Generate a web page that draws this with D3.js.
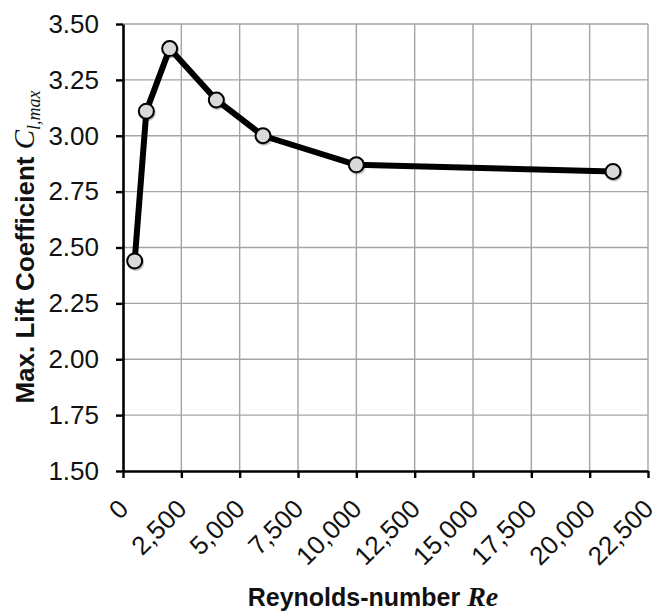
<!DOCTYPE html>
<html>
<head>
<meta charset="utf-8">
<script src="https://cdn.jsdelivr.net/npm/d3@7"></script>
<style>
  body { margin: 0; background: #fff; }
  svg { display: block; font-family: "Liberation Sans", Arial, sans-serif; }
</style>
</head>
<body>
<svg id="chart" width="652" height="611"></svg>
<script>
// data
var reynolds = [500, 1000, 2000, 4000, 6000, 10000, 21000];
var clMax = [2.44, 3.11, 3.39, 3.16, 3.00, 2.87, 2.84];
var xTicks = [0, 2500, 5000, 7500, 10000, 12500, 15000, 17500, 20000, 22500];
var yTicks = [1.50, 1.75, 2.00, 2.25, 2.50, 2.75, 3.00, 3.25, 3.50];

var plotL = 123, plotR = 648, plotT = 24, plotB = 471;

var svg = d3.select("#chart");

var x = d3.scaleLinear().domain([0, 22500]).range([plotL, plotR]);
var y = d3.scaleLinear().domain([1.5, 3.5]).range([plotB, plotT]);

// grid
svg.append("g").selectAll("line")
  .data(xTicks.slice(1))
  .enter().append("line")
  .attr("x1", function(d) { return x(d); })
  .attr("x2", function(d) { return x(d); })
  .attr("y1", plotT).attr("y2", plotB)
  .attr("stroke", "#a4a4a4").attr("stroke-width", 1.4);

svg.append("g").selectAll("line")
  .data(yTicks.slice(1))
  .enter().append("line")
  .attr("x1", plotL).attr("x2", plotR)
  .attr("y1", function(d) { return y(d); })
  .attr("y2", function(d) { return y(d); })
  .attr("stroke", "#a4a4a4").attr("stroke-width", 1.4);

// axes
var yAxis = d3.axisLeft(y).tickValues(yTicks).tickSize(7).tickSizeOuter(0)
  .tickFormat(d3.format(".2f"));
var gy = svg.append("g").attr("transform", "translate(" + plotL + ",0)").call(yAxis);
gy.select(".domain").attr("stroke", "#000").attr("stroke-width", 2.6);
gy.selectAll(".tick line").attr("stroke", "#000").attr("stroke-width", 2.4);
gy.selectAll(".tick text")
  .attr("x", -24)
  .attr("font-size", 26)
  .attr("font-family", "Liberation Sans, Arial, sans-serif")
  .attr("fill", "#111");

var xAxis = d3.axisBottom(x).tickValues(xTicks).tickSize(7).tickSizeOuter(0)
  .tickFormat(d3.format(","));
var gx = svg.append("g").attr("transform", "translate(0," + plotB + ")").call(xAxis);
gx.select(".domain").attr("stroke", "#000").attr("stroke-width", 2.6);
gx.selectAll(".tick line").attr("stroke", "#000").attr("stroke-width", 2.4);
gx.selectAll(".tick text")
  .attr("font-size", 26)
  .attr("font-family", "Liberation Sans, Arial, sans-serif")
  .attr("fill", "#111")
  .attr("text-anchor", "end")
  .attr("y", 0).attr("dy", "0.35em")
  .attr("transform", "translate(0,33) rotate(-45)");

// line
var line = d3.line()
  .x(function(d, i) { return x(reynolds[i]); })
  .y(function(d) { return y(d); });

svg.append("path")
  .datum(clMax)
  .attr("d", line)
  .attr("fill", "none")
  .attr("stroke", "#000")
  .attr("stroke-width", 6)
  .attr("stroke-linejoin", "round");

// markers, with a faint shadow like the original
svg.append("g").selectAll("circle")
  .data(clMax)
  .enter().append("circle")
  .attr("cx", function(d, i) { return x(reynolds[i]) + 1; })
  .attr("cy", function(d) { return y(d) + 1.5; })
  .attr("r", 8.5)
  .attr("fill", "rgba(0,0,0,0.25)");

svg.append("g").selectAll("circle")
  .data(clMax)
  .enter().append("circle")
  .attr("cx", function(d, i) { return x(reynolds[i]); })
  .attr("cy", function(d) { return y(d); })
  .attr("r", 7.5)
  .attr("fill", "#d9d9d9")
  .attr("stroke", "#000")
  .attr("stroke-width", 2);

// axis titles
var yt = svg.append("text")
  .attr("transform", "translate(34,247) rotate(-90)")
  .attr("text-anchor", "middle")
  .attr("font-size", 26)
  .attr("font-weight", "bold")
  .attr("fill", "#111");
yt.append("tspan").text("Max. Lift Coefficient ");
yt.append("tspan").text("C")
  .attr("font-family", "Liberation Serif, Times New Roman, serif")
  .attr("font-style", "italic").attr("font-weight", "normal").attr("font-size", 29);
yt.append("tspan").text("l,max")
  .attr("font-family", "Liberation Serif, Times New Roman, serif")
  .attr("font-style", "italic").attr("font-weight", "normal").attr("font-size", 18)
  .attr("dy", 6);

var xt = svg.append("text")
  .attr("x", 373)
  .attr("y", 606)
  .attr("text-anchor", "middle")
  .attr("font-size", 25)
  .attr("font-weight", "bold")
  .attr("fill", "#111");
xt.append("tspan").text("Reynolds-number ");
xt.append("tspan").text("Re")
  .attr("font-family", "Liberation Serif, Times New Roman, serif")
  .attr("font-style", "italic").attr("font-size", 28);
</script>
</body>
</html>
